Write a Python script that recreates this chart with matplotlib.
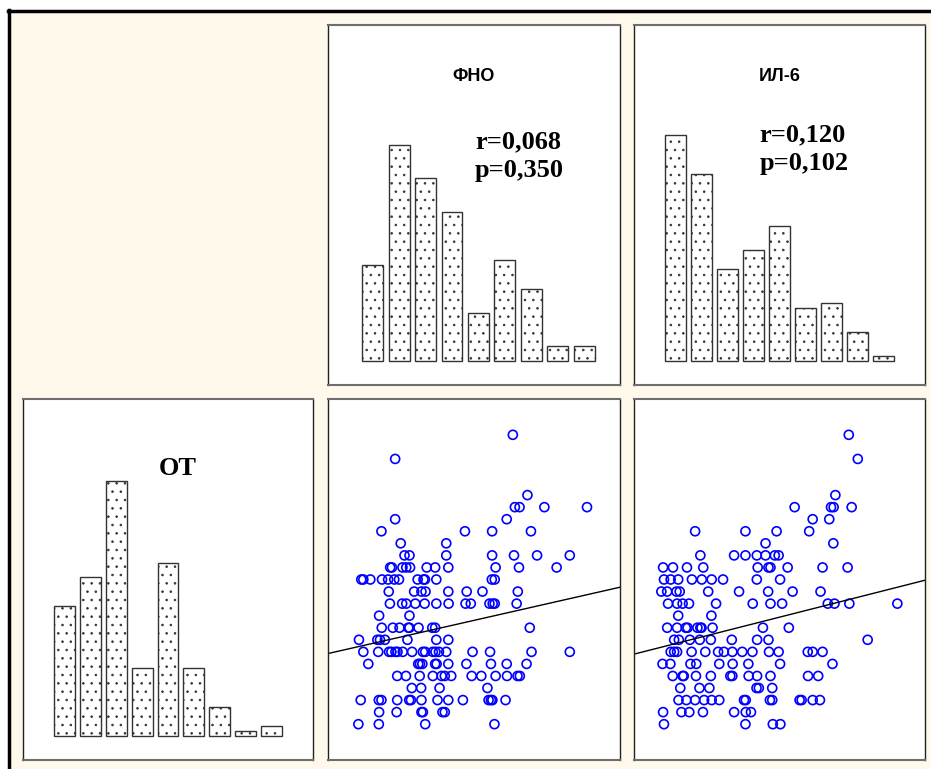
import matplotlib
matplotlib.use("Agg")
import matplotlib.pyplot as plt
from matplotlib.patches import Rectangle
from matplotlib.lines import Line2D
import numpy as np

# histogram counts (9 bins each)
ot_counts = [27, 33, 53, 14, 36, 14, 6, 1, 2]
tnf_counts = [20, 45, 38, 31, 10, 21, 15, 3, 3]
il6_counts = [47, 39, 19, 23, 28, 11, 12, 6, 1]

tnf_stats = ["r=0,068", "p=0,350"]
il6_stats = ["r=0,120", "p=0,102"]

# ОТ levels (y) and x values of the points at each level
ot_levels = [24, 22, 19, 18, 17, 16, 15, 14, 13, 12, 11, 10, 9, 8, 7, 6, 5, 4, 3, 2, 1, 0]

tnf_x = [
    [63.3],
    [23.0],
    [68.3],
    [64.0, 65.6, 74.1, 88.7],
    [23.0, 61.2],
    [18.3, 46.9, 56.2, 69.5],
    [24.9, 40.5],
    [26.2, 27.9, 40.5, 56.2, 63.7, 71.6, 82.8],
    [21.3, 21.9, 25.5, 26.8, 28.1, 33.8, 36.7, 41.2, 57.4, 65.4, 78.3],
    [11.4, 12.1, 14.5, 18.5, 20.6, 22.7, 24.3, 30.7, 32.7, 33.2, 37.1, 56.1, 57.1],
    [20.8, 29.5, 32.0, 33.4, 41.2, 47.5, 52.9, 65.0],
    [21.2, 25.4, 26.8, 29.9, 33.1, 37.1, 41.3, 47.1, 48.9, 55.3, 56.4, 57.1, 64.6],
    [17.5, 27.9],
    [18.4, 22.2, 24.5, 27.5, 27.9, 31.0, 35.7, 36.7, 69.1],
    [10.6, 16.9, 17.8, 19.5, 27.2, 37.1, 41.2],
    [12.1, 17.2, 20.9, 21.7, 23.1, 23.8, 25.6, 28.8, 32.5, 33.3, 35.9, 36.8, 38.0, 40.5, 49.5, 55.5, 69.7, 82.8],
    [13.8, 30.9, 31.5, 32.3, 36.7, 37.2, 41.2, 47.4, 55.8, 61.2, 68.0],
    [23.7, 26.7, 31.4, 35.9, 38.9, 40.0, 42.2, 49.2, 52.5, 57.4, 61.3, 64.9, 65.7],
    [28.7, 31.9, 38.2, 54.6],
    [11.2, 17.4, 18.3, 23.7, 27.8, 28.4, 32.0, 37.5, 41.2, 46.2, 55.0, 55.8, 56.3, 60.8],
    [17.5, 23.5, 32.0, 32.5, 39.2, 40.0],
    [10.4, 17.4, 33.3, 57.0],
]

il6_x = [
    [73.8],
    [76.9],
    [69.2],
    [55.2, 67.7, 68.6, 74.8],
    [61.4, 67.1],
    [21.0, 38.3, 49.0, 60.2],
    [45.2, 68.5],
    [22.8, 34.4, 38.3, 42.2, 45.2, 48.4, 49.7],
    [10.0, 13.4, 18.2, 23.8, 42.5, 46.2, 46.9, 52.8, 64.8, 73.4],
    [10.3, 12.6, 15.2, 19.9, 23.3, 26.7, 30.6, 42.2, 50.2],
    [9.4, 11.4, 14.6, 15.7, 25.5, 36.1, 46.1, 54.5, 64.1],
    [11.7, 14.8, 16.7, 18.9, 28.2, 40.8, 46.9, 50.9, 66.6, 68.9, 74.0, 90.5],
    [15.2, 26.6],
    [11.4, 14.8, 17.8, 18.4, 21.8, 22.8, 23.2, 27.0, 44.3, 53.2],
    [13.8, 15.4, 19.2, 22.6, 26.4, 33.6, 42.3, 46.2, 80.3],
    [12.6, 13.8, 14.8, 19.8, 24.5, 28.9, 30.9, 33.8, 37.2, 40.7, 46.4, 49.7, 59.7, 61.4, 64.8],
    [9.8, 12.5, 19.4, 21.4, 29.3, 33.9, 39.3, 50.2, 68.2],
    [13.3, 16.7, 17.1, 21.3, 26.4, 33.1, 33.8, 39.4, 42.3, 46.9, 59.8, 63.3],
    [15.9, 22.5, 25.9, 42.1, 42.9, 47.5],
    [15.3, 18.0, 21.0, 24.1, 26.7, 29.3, 37.8, 38.4, 46.7, 47.5, 56.9, 57.6, 61.4, 63.9],
    [10.0, 16.3, 19.0, 23.7, 34.4, 38.4, 40.2],
    [10.3, 38.3, 47.7, 50.3],
]

# regression lines (intercept, slope)
tnf_fit = (5.86, 0.055)
il6_fit = (5.81, 0.0613)

cream = "#FFF9EC"
W, H = 931, 769

plt.rcParams["hatch.linewidth"] = 0.6

fig = plt.figure(figsize=(W / 100, H / 100), dpi=100)
fig.patch.set_facecolor("white")
fig.add_artist(Rectangle((9 / W, 0), 1, 1 - 11 / H, transform=fig.transFigure,
                         facecolor=cream, edgecolor="none", zorder=0))
fig.add_artist(Line2D([8 / W, 1], [1 - 11 / H] * 2, transform=fig.transFigure, color="black", lw=2.5))
fig.add_artist(Line2D([9 / W] * 2, [0, 1 - 10 / H], transform=fig.transFigure, color="black", lw=2.5))


def panel(x0, y0, x1, y1):
    ax = fig.add_axes([x0 / W, 1 - y1 / H, (x1 - x0) / W, (y1 - y0) / H])
    ax.set_xticks([])
    ax.set_yticks([])
    for s in ["top", "bottom"]:
        ax.spines[s].set_color("#6e6e6e")
        ax.spines[s].set_linewidth(1.5)
    for s in ["left", "right"]:
        ax.spines[s].set_color("#222222")
        ax.spines[s].set_linewidth(1.0)
    return ax


def hist(ax, counts, lo, hi, w):
    ax.bar(range(len(counts)), counts, width=w, color="white", edgecolor="#333333",
           linewidth=1.0, hatch="..")
    ax.set_xlim(lo, hi)
    ax.set_ylim(-5.1, 70.1)


def stats(ax, lines, x, y1, y2):
    for txt, y in zip(lines, [y1, y2]):
        ax.text(x, y, txt, transform=ax.transAxes, ha="left", va="baseline",
                family="Liberation Serif", weight="bold", fontsize=19)


def scatter(ax, xs, fit):
    xx, yy = [], []
    for lev, row in zip(ot_levels, xs):
        xx += row
        yy += [lev] * len(row)
    ax.scatter(xx, yy, s=42, facecolors="none", edgecolors="#0000FF", linewidths=1.2)
    line_x = np.array([0, 100])
    ax.plot(line_x, fit[0] + fit[1] * line_x, color="black", lw=1.0)
    ax.set_xlim(0, 100)
    ax.set_ylim(-2.97, 26.97)


ax_tnf = panel(328, 24.5, 620, 385)
hist(ax_tnf, tnf_counts, -1.69, 9.35, 0.79)
ax_tnf.text(0.5, 0.857, "ФНО", transform=ax_tnf.transAxes, ha="center", va="center",
            family="Liberation Sans", weight="bold", fontsize=13)
stats(ax_tnf, tnf_stats, 0.503, 0.657, 0.577)

ax_il6 = panel(634, 24.5, 925, 385)
hist(ax_il6, il6_counts, -1.58, 9.59, 0.81)
ax_il6.text(0.5, 0.857, "ИЛ-6", transform=ax_il6.transAxes, ha="center", va="center",
            family="Liberation Sans", weight="bold", fontsize=13)
stats(ax_il6, il6_stats, 0.431, 0.677, 0.596)

ax_ot = panel(23, 399, 313, 760)
hist(ax_ot, ot_counts, -1.62, 9.62, 0.81)
ax_ot.text(0.534, 0.789, "ОТ", transform=ax_ot.transAxes, ha="center", va="baseline",
           family="Liberation Serif", weight="bold", fontsize=19)

ax_s1 = panel(328, 399, 620, 760)
scatter(ax_s1, tnf_x, tnf_fit)

ax_s2 = panel(634, 399, 925, 760)
scatter(ax_s2, il6_x, il6_fit)

fig.savefig("out.png", dpi=100)
